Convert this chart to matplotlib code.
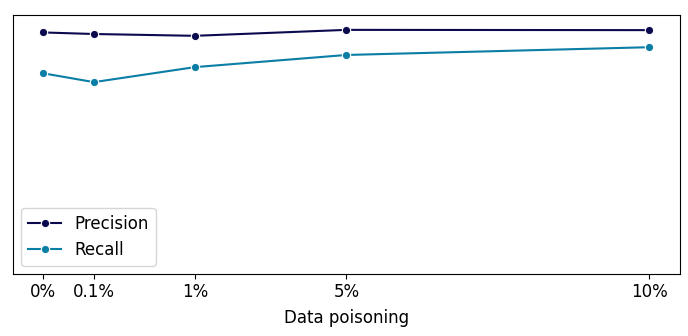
import numpy as np
import matplotlib
matplotlib.use("Agg")
import matplotlib.pyplot as plt

# poisoning rates (%) and scores
rates = [0, 0.1, 1, 5, 10]
rate_labels = ["0%", "0.1%", "1%", "5%", "10%"]
precision = [0.933, 0.927, 0.920, 0.943, 0.942]
recall = [0.775, 0.741, 0.799, 0.846, 0.876]

# uneven axis spacing used by the original plot
scale_pts = [0, 1, 3, 6, 12]


def piecewise(x, src, dst):
    # linear interpolation, extended linearly past both ends
    x = np.asarray(x, dtype=float)
    y = np.interp(x, src, dst)
    lo = (dst[1] - dst[0]) / (src[1] - src[0])
    hi = (dst[-1] - dst[-2]) / (src[-1] - src[-2])
    y = np.where(x < src[0], dst[0] + (x - src[0]) * lo, y)
    y = np.where(x > src[-1], dst[-1] + (x - src[-1]) * hi, y)
    return y


def fwd(x):
    return piecewise(x, rates, scale_pts)


def inv(x):
    return piecewise(x, scale_pts, rates)


fig, ax = plt.subplots(figsize=(6.88, 3.36), dpi=100)
ax.set_xscale("function", functions=(fwd, inv))

ax.plot(rates, precision, color="#0b0a4f", marker="o", markersize=6,
        markeredgecolor="white", markeredgewidth=0.8, linewidth=1.5, label="Precision")
ax.plot(rates, recall, color="#0b7ea6", marker="o", markersize=6,
        markeredgecolor="white", markeredgewidth=0.8, linewidth=1.5, label="Recall")

ax.set_xlim(float(inv(-0.6)), float(inv(12.6)))
ax.set_xticks(rates)
ax.set_xticklabels(rate_labels, fontsize=12)
ax.tick_params(axis="x", pad=3)
ax.set_ylim(0, 1)
ax.set_yticks([])
ax.set_xlabel("Data poisoning", fontsize=12, labelpad=6)
ax.legend(loc="lower left", fontsize=12)

fig.subplots_adjust(left=0.019, right=0.988, top=0.955, bottom=0.185)
fig.savefig("out.png")
